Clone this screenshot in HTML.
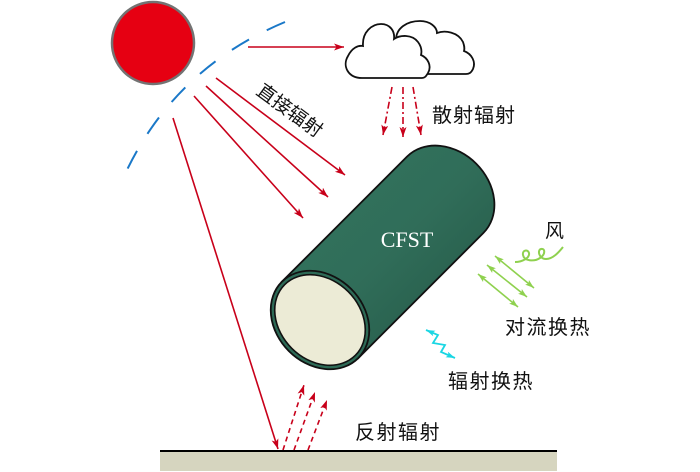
<!DOCTYPE html>
<html><head><meta charset="utf-8"><style>
html,body{margin:0;padding:0;background:#fff;width:700px;height:472px;overflow:hidden}
svg{display:block}
.cn{font-family:"Liberation Sans","Noto Sans CJK SC",sans-serif;fill:#111}
</style></head><body>
<svg width="700" height="472" viewBox="0 0 700 472" xmlns="http://www.w3.org/2000/svg">
<defs>
<marker id="ar" markerUnits="userSpaceOnUse" markerWidth="11" markerHeight="8" refX="10" refY="3.5" orient="auto"><path d="M0,0 L10,3.5 L0,7 L2.5,3.5 Z" fill="#c8001a"/></marker>
<marker id="ag" markerUnits="userSpaceOnUse" markerWidth="10" markerHeight="8" refX="9" refY="3" orient="auto-start-reverse"><path d="M0,0 L9,3 L0,6 L2,3 Z" fill="#8fd14f"/></marker>
<marker id="ac" markerUnits="userSpaceOnUse" markerWidth="10" markerHeight="8" refX="9" refY="3" orient="auto-start-reverse"><path d="M0,0 L9,3 L0,6 L2,3 Z" fill="#19d6e3"/></marker>
<linearGradient id="gb" x1="0" y1="-54" x2="0" y2="54" gradientUnits="userSpaceOnUse"><stop offset="0" stop-color="#31705b"/><stop offset="0.5" stop-color="#306d59"/><stop offset="1" stop-color="#2b6451"/></linearGradient>
</defs>

<!-- sun -->
<circle cx="153" cy="43" r="41" fill="#e60012" stroke="#737373" stroke-width="2.5"/>
<!-- blue dashed arc -->
<path d="M285,22 Q170,70 121,183" fill="none" stroke="#1a78c8" stroke-width="2" stroke-dasharray="20 20"/>

<!-- direct radiation -->
<g stroke="#c8001a" stroke-width="1.6" fill="none" marker-end="url(#ar)">
<line x1="248" y1="47" x2="344" y2="47"/>
<line x1="216" y1="78" x2="345" y2="175"/>
<line x1="206" y1="86" x2="328" y2="197"/>
<line x1="194" y1="96" x2="303" y2="218"/>
<line x1="173" y1="118" x2="278" y2="449"/>
</g>
<text class="cn" font-size="19" text-anchor="middle" transform="translate(290,110) rotate(36)" y="7">直接辐射</text>

<!-- clouds -->
<path d="M396,40 C396,28 407,21 420,21 C430,21 437,27 437,33 C445,30 458,32 463,42 C464,45 465,48 464,51 C472,54 476,62 473,69 C471,73 469,74 466,74 L400,74 Z" fill="#fff" stroke="#111" stroke-width="1.8"/>
<path d="M362,78 C348,78 342,66 348,56 C352,48 358,45 363,46 C362,32 372,24 381,24 C390,24 395,31 394,39 C400,35 412,34 418,42 C421,46 422,51 421,55 C428,58 432,66 428,73 C426,76 425,78 422,78 Z" fill="#fff" stroke="#111" stroke-width="1.8"/>

<!-- scattered -->
<g stroke="#c8001a" stroke-width="1.6" fill="none" stroke-dasharray="7 3 2 3" marker-end="url(#ar)">
<line x1="392" y1="87" x2="383" y2="135"/>
<line x1="403" y1="87" x2="403" y2="137"/>
<line x1="413" y1="87" x2="421" y2="135"/>
</g>
<text class="cn" font-size="20" x="432" y="122" letter-spacing="1">散射辐射</text>

<!-- cylinder -->
<g transform="translate(320,320) rotate(-45)">
<path d="M0,-54 L177,-54 A44,54 0 0 1 177,54 L0,54 Z" fill="url(#gb)" stroke="#111" stroke-width="1.8"/>
<ellipse cx="0" cy="0" rx="44" ry="54" fill="#2d6a56" stroke="#111" stroke-width="1.8"/>
<ellipse cx="0" cy="0" rx="40" ry="50" fill="#ecebd6" stroke="#111" stroke-width="1.6"/>
</g>
<text x="407" y="247" font-family="Liberation Serif, serif" font-size="22" fill="#fff" text-anchor="middle">CFST</text>

<!-- wind + convection -->
<text class="cn" font-size="19" x="545" y="237">风</text>
<path d="M515,262 C522,262 530,258 529,253 C528,249 522,250 523,255 C524,261 534,262 540,258 C546,254 545,248 541,249 C537,250 539,259 546,259 C553,259 559,252 563,247" fill="none" stroke="#8fd14f" stroke-width="2"/>
<g stroke="#8fd14f" stroke-width="1.6" marker-start="url(#ag)" marker-end="url(#ag)">
<line x1="495" y1="256" x2="534" y2="288"/>
<line x1="487" y1="265" x2="527" y2="297"/>
<line x1="478" y1="274" x2="518" y2="307"/>
</g>
<text class="cn" font-size="20" x="505" y="334" letter-spacing="1.5">对流换热</text>

<!-- radiative exchange -->
<polyline points="426,330 438,335 433,343 445,345 441,352 455,358" fill="none" stroke="#19d6e3" stroke-width="1.8" marker-start="url(#ac)" marker-end="url(#ac)"/>
<text class="cn" font-size="20" x="448" y="388" letter-spacing="1.5">辐射换热</text>

<!-- reflected -->
<g stroke="#c8001a" stroke-width="1.6" fill="none" stroke-dasharray="5 4" marker-end="url(#ar)">
<line x1="283" y1="450" x2="304" y2="385"/>
<line x1="294" y1="450" x2="315" y2="392"/>
<line x1="308" y1="450" x2="327" y2="400"/>
</g>
<text class="cn" font-size="20" x="355" y="439" letter-spacing="1.5">反射辐射</text>

<!-- ground -->
<rect x="160" y="452" width="397" height="19" fill="#d6d5bf"/>
<line x1="160" y1="451" x2="557" y2="451" stroke="#000" stroke-width="2"/>
</svg>
</body></html>
